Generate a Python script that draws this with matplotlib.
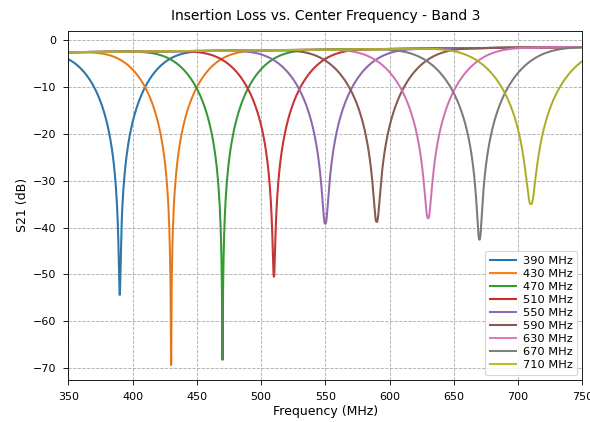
import numpy as np
import matplotlib
matplotlib.use("Agg")
import matplotlib.pyplot as plt

# Data
center_freqs = [390, 430, 470, 510, 550, 590, 630, 670, 710]          # MHz
notch_depths = [-54.4, -69.4, -68.3, -50.5, -39.2, -38.8, -38.0, -42.6, -35.0]  # dB at centre
notch_widths = [37, 38, 39, 40, 41, 42, 43, 45, 46]                   # MHz, shape width
baseline_start = -2.5   # dB at 350 MHz
baseline_end = -1.4     # dB at 750 MHz
shape_exp = 2.65
labels = [f"{f} MHz" for f in center_freqs]
colors = ["tab:blue", "tab:orange", "tab:green", "tab:red", "tab:purple",
          "tab:brown", "tab:pink", "tab:gray", "tab:olive"]
f_min, f_max = 350, 750

freq = np.linspace(f_min, f_max, 40001)


def base(f):
    return baseline_start + (f - f_min) / (f_max - f_min) * (baseline_end - baseline_start)


fig = plt.figure(figsize=(590 / 78, 422 / 78), dpi=78)
ax = fig.add_axes([0.1158, 0.0995, 0.9869 - 0.1158, 0.9273 - 0.0995])

for f0, depth, w, lab, col in zip(center_freqs, notch_depths, notch_widths, labels, colors):
    d = 10 ** ((depth - base(f0)) / 10)
    x = np.abs(freq - f0) / w
    p = d + (1 - d) * (1 - np.exp(-x ** shape_exp))
    s21 = 10 * np.log10(p) + base(freq)
    ax.plot(freq, s21, color=col, lw=1.9, label=lab)
    ax.plot(freq, s21, color="0.45", lw=0.6, alpha=0.5)

ax.set_xlim(f_min, f_max)
ax.set_ylim(-72.6, 2.1)
ax.set_xticks(np.arange(350, 751, 50))
ax.set_yticks(np.arange(-70, 1, 10))
ax.tick_params(length=5, pad=6, labelsize=10.3)
ax.grid(True, linestyle="--", color="0.6", lw=0.8, alpha=0.8)
ax.set_title("Insertion Loss vs. Center Frequency - Band 3", fontsize=12.8, pad=10)
ax.set_xlabel("Frequency (MHz)", fontsize=11.6, labelpad=3)
ax.set_ylabel("S21 (dB)", fontsize=11.6)
ax.legend(loc="lower right", fontsize=10.5, labelspacing=0.27, handlelength=2.3,
          handletextpad=0.6, borderaxespad=0.45)

fig.savefig("out.png", dpi=78)
